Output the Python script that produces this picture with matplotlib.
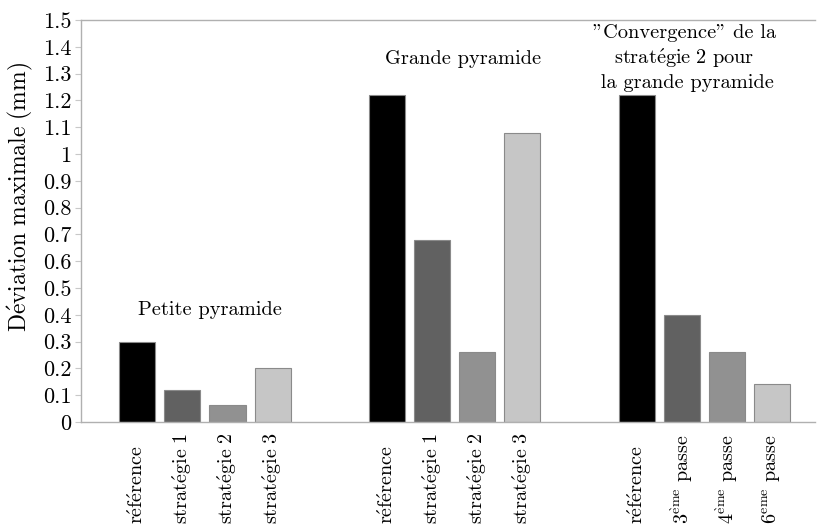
import numpy as np
import matplotlib
matplotlib.use("Agg")
import matplotlib.pyplot as plt

plt.rcParams["font.family"] = ["cmr10", "DejaVu Serif"]
plt.rcParams["mathtext.fontset"] = "cm"
plt.rcParams["axes.formatter.use_mathtext"] = True

# data
groups = ["Petite pyramide", "Grande pyramide",
          "\"Convergence\" de la\nstratégie 2 pour\n la grande pyramide"]
bar_labels = [
    ["référence", "stratégie 1", "stratégie 2", "stratégie 3"],
    ["référence", "stratégie 1", "stratégie 2", "stratégie 3"],
    ["référence", "3^ème passe", "4^ème passe", "6^eme passe"],
]
values = [
    [0.30, 0.12, 0.065, 0.20],
    [1.22, 0.68, 0.26, 1.08],
    [1.22, 0.40, 0.26, 0.14],
]
bar_colors = ["#000000", "#616161", "#919191", "#c6c6c6"]
yticks = [0, 0.1, 0.2, 0.3, 0.4, 0.5, 0.6, 0.7, 0.8, 0.9, 1, 1.1, 1.2, 1.3, 1.4, 1.5]
ytick_labels = ["0", "0.1", "0.2", "0.3", "0.4", "0.5", "0.6", "0.7", "0.8", "0.9",
                "1", "1.1", "1.2", "1.3", "1.4", "1.5"]


def tex(s):
    # cmr10 has no accented glyphs: go through mathtext, line by line
    out = []
    for line in s.split("\n"):
        if not any(c in line for c in "éè^"):
            out.append(line)
            continue
        m = line.replace("é", r"\acute{e}").replace("è", r"\grave{e}")
        if "^" in m:
            head, rest = m.split("^", 1)
            sup, tail = rest.split(" ", 1)
            m = head + "^{" + sup + "}" + " " + tail
        m = m.replace(" ", r"\ ")
        out.append(r"$\mathrm{" + m + "}$")
    return "\n".join(out)


group_step = 5.545
fig = plt.figure(figsize=(8.17, 5.28), dpi=100)
ax = fig.add_axes([0.099, 0.2008, 0.899, 0.7614])

xform = ax.get_xaxis_transform()
for g, (vals, labs) in enumerate(zip(values, bar_labels)):
    x = g * group_step + np.arange(len(vals))
    ax.bar(x, vals, width=0.8, color=bar_colors, edgecolor="#8a8a8a", linewidth=0.8)
    # rotated labels, all starting at the same height below the axis
    for xi, lab in zip(x, labs):
        ax.text(xi, -0.254, tex(lab), rotation=90, ha="center", va="bottom",
                fontsize=14.5, transform=xform, clip_on=False)

# group titles
ax.text(1.62, 0.385, groups[0], ha="center", va="bottom", fontsize=14.7)
ax.text(group_step + 1.68, 1.32, groups[1], ha="center", va="bottom", fontsize=14.7)
ax.text(2 * group_step + 1.05, 1.23, tex(groups[2]), ha="center", va="bottom",
        fontsize=14.7, linespacing=1.3)

ax.set_xlim(-1.255, 15.05)
ax.set_ylim(0, 1.5)
ax.set_xticks([])
ax.set_yticks(yticks)
ax.set_yticklabels(ytick_labels, fontsize=16)
ax.tick_params(axis="y", length=4, color="#c8c8c8", pad=3)
ax.set_ylabel(tex("Déviation maximale (mm)"), fontsize=17)
ax.yaxis.set_label_coords(-0.063, 0.56)

for side in ["left", "top", "bottom"]:
    ax.spines[side].set_color("#b0b0b0")
    ax.spines[side].set_linewidth(1.0)
ax.spines["right"].set_visible(False)

fig.savefig("out.png", dpi=100)
